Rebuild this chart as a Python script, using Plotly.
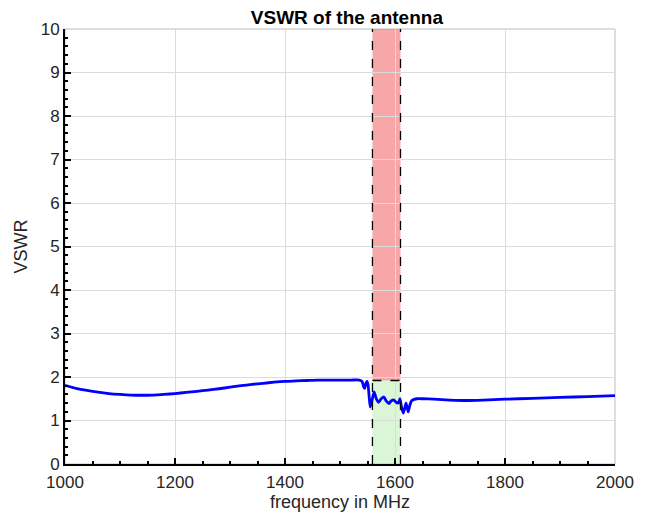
import plotly.graph_objects as go

# VSWR curve
freq = [1000, 1020, 1040, 1060, 1080, 1100, 1120, 1140, 1160, 1180, 1200, 1220, 1240,
        1260, 1280, 1300, 1320, 1340, 1360, 1380, 1400, 1420, 1440, 1460, 1480, 1500,
        1520, 1535, 1540, 1543, 1545, 1547, 1549, 1551, 1553, 1555, 1558, 1562, 1566,
        1570, 1575, 1580, 1584, 1589, 1593, 1598, 1602, 1606, 1609, 1612, 1615, 1618,
        1620, 1622, 1624, 1627, 1630, 1634, 1640, 1650, 1670, 1700, 1730, 1760, 1800,
        1850, 1900, 1950, 2000]
vswr = [1.81, 1.74, 1.69, 1.65, 1.62, 1.60, 1.585, 1.58, 1.585, 1.60, 1.62, 1.645, 1.67,
        1.70, 1.73, 1.765, 1.80, 1.83, 1.855, 1.88, 1.90, 1.91, 1.92, 1.93, 1.93, 1.93,
        1.93, 1.93, 1.90, 1.78, 1.74, 1.85, 1.90, 1.82, 1.55, 1.31, 1.45, 1.66, 1.50,
        1.42, 1.50, 1.54, 1.45, 1.39, 1.45, 1.47, 1.42, 1.40, 1.50, 1.30, 1.17, 1.30,
        1.40, 1.30, 1.20, 1.35, 1.45, 1.48, 1.50, 1.50, 1.49, 1.47, 1.46, 1.47, 1.49,
        1.51, 1.53, 1.55, 1.57]

# frequency band of interest and VSWR limit
band = [1559, 1610]
vswr_limit = 1.92
y_max = 10

fig = go.Figure()

fig.add_trace(go.Scatter(
    x=freq, y=vswr, mode="lines",
    line=dict(color="#0000ff", width=2.8, shape="spline", smoothing=0.6),
    showlegend=False,
))

# band fills: red above the limit, green below
fig.add_shape(type="rect", x0=band[0], x1=band[1], y0=vswr_limit, y1=y_max,
              fillcolor="rgba(240,80,80,0.5)", line_width=0, layer="below")
fig.add_shape(type="rect", x0=band[0], x1=band[1], y0=0, y1=vswr_limit,
              fillcolor="rgba(150,230,140,0.35)", line_width=0, layer="below")
for b in band:
    fig.add_shape(type="line", x0=b, x1=b, y0=0, y1=y_max,
                  line=dict(color="black", width=1.3, dash="dash"))
fig.add_shape(type="line", x0=band[0], x1=band[1], y0=vswr_limit, y1=vswr_limit,
              line=dict(color="black", width=1.3, dash="dash"))

# gray box on top/right
fig.add_shape(type="rect", xref="paper", yref="paper", x0=0, x1=1, y0=0, y1=1,
              line=dict(color="#bdbdbd", width=1), layer="below")

# page body has an 8px margin, so the figure is sized to fit the window
fig.update_layout(
    width=648, height=511,
    margin=dict(l=54, r=41, t=20, b=55),
    plot_bgcolor="white", paper_bgcolor="white",
    font=dict(family="Liberation Sans, Arial, sans-serif", color="#262626", size=17),
    title=dict(text="<b>VSWR of the antenna</b>", x=0.523, xanchor="center",
               y=0.981, yanchor="middle", font=dict(size=19, color="black")),
)
fig.update_xaxes(
    range=[1000, 2000], dtick=200, tick0=1000,
    showgrid=True, gridcolor="#dcdcdc", gridwidth=1,
    showline=True, linecolor="black", linewidth=2,
    ticks="inside", ticklen=6, tickwidth=2, tickcolor="black",
    minor=dict(dtick=50, ticks="inside", ticklen=3, tickcolor="black", showgrid=False),
    zeroline=False, ticklabelstandoff=2,
    title=dict(text="frequency in MHz", standoff=2, font=dict(size=18)),
)
fig.update_yaxes(
    range=[0, y_max], dtick=1,
    showgrid=True, gridcolor="#dcdcdc", gridwidth=1,
    showline=True, linecolor="black", linewidth=2,
    ticks="inside", ticklen=6, tickwidth=2, tickcolor="black",
    minor=dict(dtick=0.2, ticks="inside", ticklen=3, tickcolor="black", showgrid=False),
    zeroline=False,
    title=dict(text="VSWR", standoff=8, font=dict(size=18)),
)

fig.write_html("out.html")
